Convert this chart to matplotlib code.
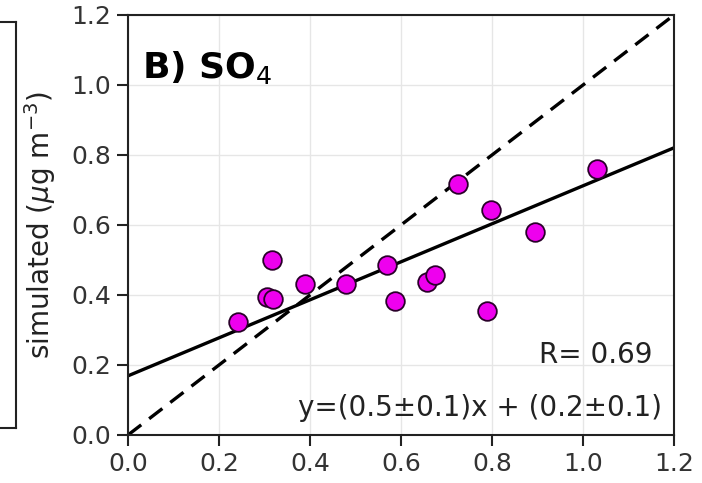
import matplotlib
matplotlib.use("Agg")
import matplotlib.pyplot as plt
import numpy as np

# data
obs = [0.242, 0.305, 0.316, 0.318, 0.389, 0.479, 0.569, 0.587, 0.657, 0.675,
       0.725, 0.789, 0.798, 0.895, 1.031]
sim = [0.323, 0.394, 0.500, 0.390, 0.431, 0.431, 0.486, 0.383, 0.437, 0.457,
       0.717, 0.354, 0.643, 0.580, 0.760]
slope, intercept = 0.543, 0.169
ticks = [0.0, 0.2, 0.4, 0.6, 0.8, 1.0, 1.2]
r_text = "R= 0.69"
eq_text = "y=(0.5\u00b10.1)x + (0.2\u00b10.1)"
title = r"B) SO$_4$"
ylabel = r"simulated ($\mu$g m$^{-3}$)"

fig = plt.figure(figsize=(7.02, 4.83), dpi=100)

# neighbouring panel edge (left)
axn = fig.add_axes([-0.3, 1 - 428 / 483, 0.3 + 16 / 702, (428 - 22) / 483])
axn.set_xticks([]); axn.set_yticks([])
for s in axn.spines.values():
    s.set_linewidth(1.5)
    s.set_color("#222222")

ax = fig.add_axes([128 / 702, 1 - 435 / 483, (674 - 128) / 702, (435 - 15) / 483])
ax.set_xlim(0, 1.2)
ax.set_ylim(0, 1.2)
ax.set_xticks(ticks)
ax.set_yticks(ticks)
ax.set_xticklabels([f"{t:.1f}" for t in ticks])
ax.set_yticklabels([f"{t:.1f}" for t in ticks])
ax.tick_params(labelsize=18, length=8, width=1.5, color="#222222", labelcolor="#333333", pad=4)
ax.grid(True, color="#e6e6e6", linewidth=1)
ax.set_axisbelow(True)
for s in ax.spines.values():
    s.set_linewidth(1.5)
    s.set_color("#222222")

xx = np.array([0, 1.2])
ax.plot(xx, xx, "k--", linewidth=2.4, dashes=(5, 3), zorder=2)
ax.plot(xx, slope * xx + intercept, "k-", linewidth=2.4, zorder=2)
ax.scatter(obs, sim, s=180, c="#ee00ee", edgecolors="#2a002a", linewidths=1.3, zorder=3)

ax.text(0.025, 0.876, title, transform=ax.transAxes, fontsize=26, fontweight="bold",
        va="center", ha="left")
ax.text(0.9615, 0.19, r_text, transform=ax.transAxes, fontsize=20, ha="right",
        va="center", color="#222222")
ax.text(0.978, 0.064, eq_text, transform=ax.transAxes, fontsize=20, ha="right",
        va="center", color="#222222")
ax.set_ylabel(ylabel, fontsize=20, color="#222222", labelpad=10)

fig.savefig("out.png", dpi=100)
